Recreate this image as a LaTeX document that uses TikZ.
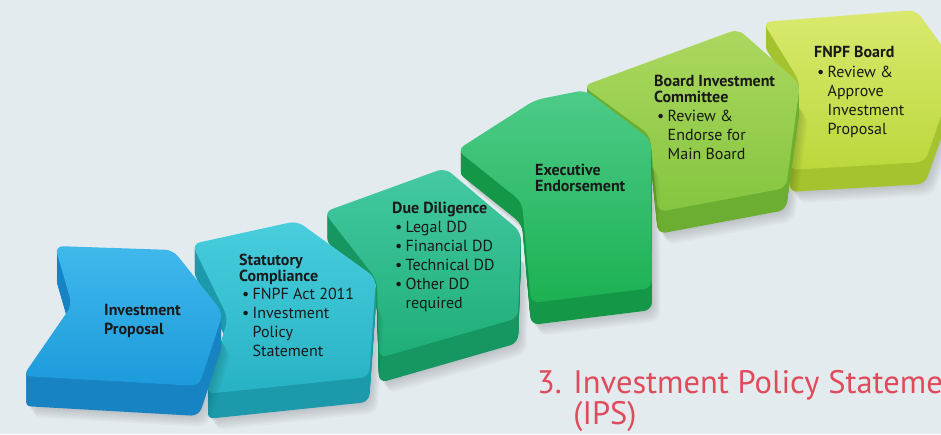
\documentclass[tikz,border=0pt]{standalone}
\usepackage{fontspec}
\setmainfont{PT Sans}

\definecolor{bg}{HTML}{E4EBEF}
\definecolor{headred}{HTML}{E04A5B}
% step colours: top, lower, body
\definecolor{sAtop}{HTML}{40B8EC}\definecolor{sAlow}{HTML}{1C9BDA}\definecolor{sAbody}{HTML}{1883C2}
\definecolor{sBtop}{HTML}{48CEDD}\definecolor{sBlow}{HTML}{27B2C3}\definecolor{sBbody}{HTML}{1C9AAB}
\definecolor{sCtop}{HTML}{45C9A3}\definecolor{sClow}{HTML}{1EAE77}\definecolor{sCbody}{HTML}{169660}
\definecolor{sDtop}{HTML}{4DCB88}\definecolor{sDlow}{HTML}{1CB153}\definecolor{sDbody}{HTML}{149847}
\definecolor{sEtop}{HTML}{ACD85F}\definecolor{sElow}{HTML}{84C53F}\definecolor{sEbody}{HTML}{6CAE31}
\definecolor{sFtop}{HTML}{DAE96E}\definecolor{sFlow}{HTML}{BAD83C}\definecolor{sFbody}{HTML}{A4C32E}

% one raised step: soft shadow, swept dark body, shaded top face
% #1 path, #2 top colour, #3 lower colour, #4 body colour, #5 depth
\newcommand{\stepshape}[5]{%
  \foreach \k in {1,...,7}{%
    \fill[black,opacity=0.022,rounded corners=9pt,shift={(1.2*\k,#5+1.6*\k)}] #1;}
  \foreach \j in {1,...,#5}{%
    \fill[#4,rounded corners=8pt,shift={(0,\j)}] #1;}
  \shade[top color=#2,bottom color=#3,rounded corners=8pt] #1;
}
% bullet line and its continuation
\newcommand{\blt}[1]{\hspace*{3pt}\makebox[10.5pt][l]{\textbullet}#1}
\newcommand{\cnt}[1]{\hspace*{13.5pt}#1}

\begin{document}
\begin{tikzpicture}[x=1pt,y=-1pt,
  lbl/.style={anchor=base west,inner sep=0pt,text=black!90,
              font=\fontsize{16}{19}\selectfont},
  heading/.style={anchor=base west,inner sep=0pt,text=headred,
              font=\fontsize{32.5}{31}\selectfont}]

\useasboundingbox (0,0) rectangle (941,434);
\fill[bg] (0,0) rectangle (941,434);
\clip (0,0) rectangle (941,434);

% steps, back to front
\stepshape{(763,22) -- (916,10) -- (958,68) -- (925,162) -- (789,170) -- (800,82) -- cycle}
  {sFtop}{sFlow}{sFbody}{22}
\stepshape{(583,86) -- (738,29) -- (800,84) -- (786,188) -- (658,212) -- (650,135) -- cycle}
  {sEtop}{sElow}{sEbody}{22}
\stepshape{(457,150) -- (535,100) -- (585,90) -- (651,140) -- (652,288) -- (531,303) -- (522,202) -- cycle}
  {sDtop}{sDlow}{sDbody}{22}
\stepshape{(324,212) -- (445,168) -- (521,232) -- (518,318) -- (379,358) -- (377,280) -- cycle}
  {sCtop}{sClow}{sCbody}{25}
\stepshape{(192,244) -- (297,221) -- (376,278) -- (369,377) -- (206,394) -- (228,318) -- cycle}
  {sBtop}{sBlow}{sBbody}{25}
\stepshape{(55,246) -- (173,250) -- (223,313) -- (199,386) -- (23,376) -- (72,305) -- cycle}
  {sAtop}{sAlow}{sAbody}{30}

% step texts
\node[lbl] (proposal) at (104,315) {\parbox[t]{120pt}{\bfseries
  Investment\\Proposal}};
\node[lbl] (statutory) at (239,265) {\parbox[t]{140pt}{%
  \textbf{Statutory}\\[-2.5pt]\textbf{Compliance}\\[-1pt]
  \blt{FNPF Act 2011}\\\blt{Investment}\\\cnt{Policy}\\\cnt{Statement}}};
\node[lbl] (diligence) at (392,213) {\parbox[t]{140pt}{%
  \textbf{Due Diligence}\\
  \blt{Legal DD}\\\blt{Financial DD}\\\blt{Technical DD}\\
  \blt{Other DD}\\\cnt{required}}};
\node[lbl] (executive) at (535,175) {\parbox[t]{140pt}{\bfseries
  Executive\\[-2.5pt]Endorsement}};
\node[lbl] (committee) at (654,86) {\parbox[t]{140pt}{%
  \textbf{Board Investment}\\[-2.5pt]\textbf{Committee}\\
  \blt{Review \&}\\\cnt{Endorse for}\\\cnt{Main Board}}};
\node[lbl] (board) at (814,57) {\parbox[t]{140pt}{%
  \textbf{FNPF Board}\\[1pt]
  \blt{Review \&}\\\cnt{Approve}\\\cnt{Investment}\\\cnt{Proposal}}};

% section heading
\node[heading] (ips) at (537,393) {\parbox[t]{500pt}{%
  3. Investment Policy Statement\\\hphantom{3. }(IPS)}};
\end{tikzpicture}
\end{document}
